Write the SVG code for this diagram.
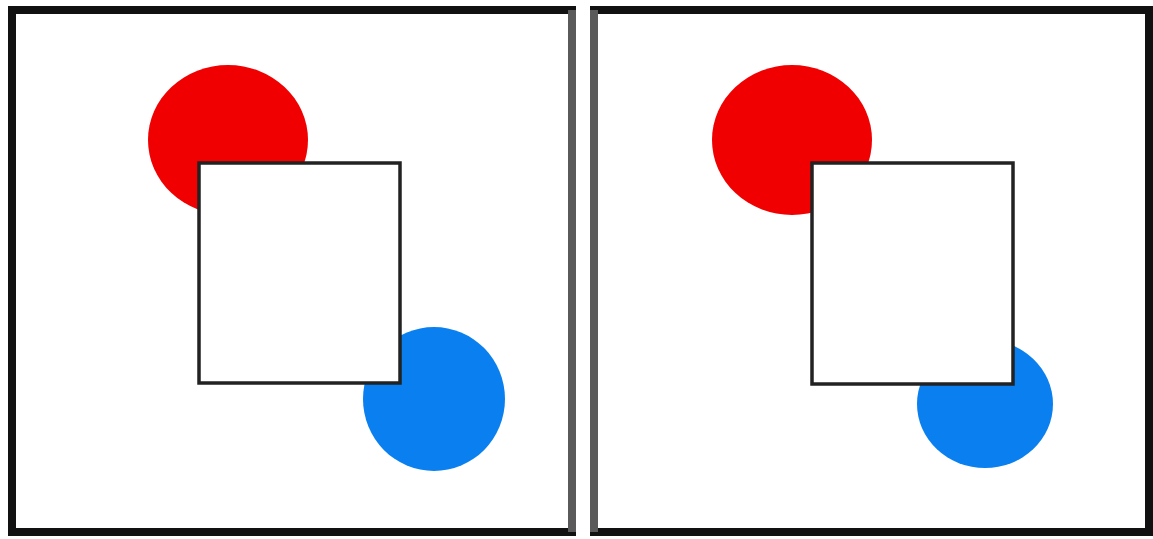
<svg xmlns="http://www.w3.org/2000/svg" width="1153" height="539" viewBox="0 0 1153 539">
<style>
.frame{fill:#fff;stroke:#111;stroke-width:8}
.side{stroke:#5a5a5a;stroke-width:8}
.red{fill:#f00000}
.blue{fill:#0a80f0}
.sq{fill:#fff;stroke:#222;stroke-width:3.5}
</style>
<rect width="1153" height="539" fill="#fff"/>
<g id="left-panel">
<rect class="frame" x="12" y="10" width="560" height="522"/>
<line class="side" x1="572" y1="10" x2="572" y2="532"/>
<ellipse class="red" cx="228" cy="140" rx="80" ry="75"/>
<ellipse class="blue" cx="434" cy="399" rx="71" ry="72"/>
<rect class="sq" x="199" y="163" width="201" height="220"/>
</g>
<g id="right-panel">
<rect class="frame" x="594" y="10" width="555" height="522"/>
<line class="side" x1="594" y1="10" x2="594" y2="532"/>
<ellipse class="red" cx="792" cy="140" rx="80" ry="75"/>
<ellipse class="blue" cx="985" cy="404" rx="68" ry="64"/>
<rect class="sq" x="812" y="163" width="201" height="221"/>
</g>
<g id="connectors"></g>
</svg>
